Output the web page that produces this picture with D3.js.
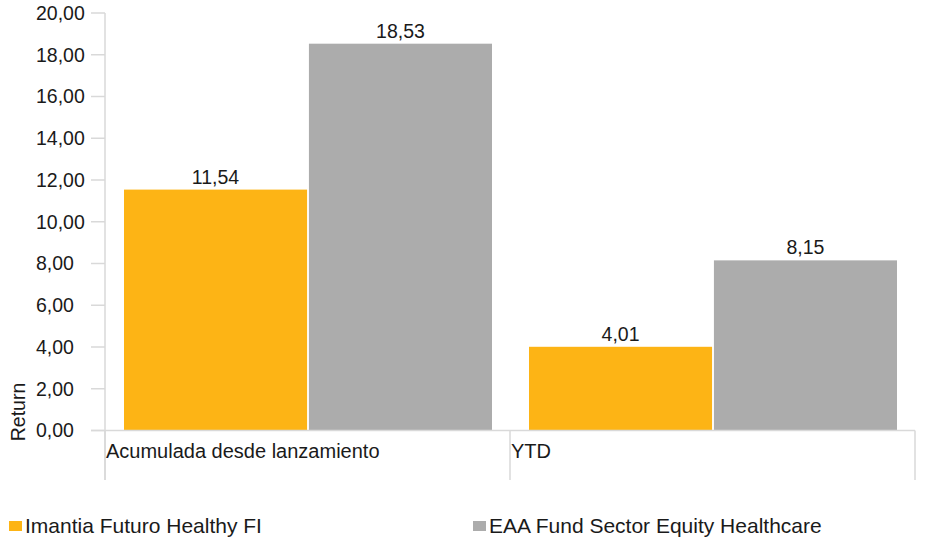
<!DOCTYPE html>
<html>
<head>
<meta charset="utf-8">
<script src="https://cdn.jsdelivr.net/npm/d3@7"></script>
<style>
  body { margin: 0; background: #fff; }
  svg { display: block; font-family: "Liberation Sans", Arial, sans-serif; }
</style>
</head>
<body>
<div id="chart"></div>
<script>
// data
var categories = ["Acumulada desde lanzamiento", "YTD"];
var seriesNames = ["Imantia Futuro Healthy FI", "EAA Fund Sector Equity Healthcare"];
var fundValues = [11.54, 4.01];
var benchValues = [18.53, 8.15];
var yTicks = [0, 2, 4, 6, 8, 10, 12, 14, 16, 18, 20];

var colors = ["#fdb415", "#acacac"];
var axisColor = "#d9d9d9";
var fmt = function(v) { return d3.format(".2f")(v).replace(".", ","); };

var width = 927, height = 537;
var plotLeft = 105, plotRight = 915, plotTop = 13, zero = 430.5;

var svg = d3.select("#chart").append("svg")
    .attr("width", width)
    .attr("height", height);

var x0 = d3.scaleBand().domain(categories).range([plotLeft, plotRight]).paddingInner(0).paddingOuter(0);
var x1 = d3.scaleBand().domain(seriesNames).range([19, x0.bandwidth() - 18]).paddingInner(0.01);
var y = d3.scaleLinear().domain([0, 20]).range([zero, plotTop]);

// y axis
var yAxis = svg.append("g");
yAxis.append("line")
    .attr("x1", plotLeft).attr("x2", plotLeft)
    .attr("y1", plotTop).attr("y2", 480)
    .attr("stroke", axisColor).attr("stroke-width", 1.5);
yAxis.selectAll(".tick").data(yTicks).enter().append("line")
    .attr("x1", 91).attr("x2", plotLeft)
    .attr("y1", function(d) { return y(d); })
    .attr("y2", function(d) { return y(d); })
    .attr("stroke", axisColor).attr("stroke-width", 1.5);
yAxis.selectAll("text").data(yTicks).enter().append("text")
    .attr("x", 36)
    .attr("y", function(d) { return y(d); })
    .attr("dy", "0.35em")
    .attr("font-size", 19.5)
    .attr("fill", "#1a1a1a")
    .text(fmt);

svg.append("text")
    .attr("transform", "translate(25,412) rotate(-90)")
    .attr("text-anchor", "middle")
    .attr("font-size", 19.5)
    .attr("fill", "#1a1a1a")
    .text("Return");

// bars
var groups = svg.selectAll(".cat").data(categories).enter().append("g")
    .attr("transform", function(d) { return "translate(" + x0(d) + ",0)"; });

groups.each(function(c, i) {
    var g = d3.select(this);
    var vals = [fundValues[i], benchValues[i]];
    g.selectAll("rect").data(vals).enter().append("rect")
        .attr("x", function(d, j) { return x1(seriesNames[j]); })
        .attr("width", x1.bandwidth())
        .attr("y", function(d) { return y(d); })
        .attr("height", function(d) { return zero - y(d); })
        .attr("fill", function(d, j) { return colors[j]; });
    g.selectAll(".val").data(vals).enter().append("text")
        .attr("x", function(d, j) { return x1(seriesNames[j]) + x1.bandwidth() / 2; })
        .attr("y", function(d) { return y(d) - 6; })
        .attr("text-anchor", "middle")
        .attr("font-size", 19.5)
        .attr("fill", "#1a1a1a")
        .text(fmt);
});

// x axis
svg.append("line")
    .attr("x1", 91).attr("x2", plotRight)
    .attr("y1", zero).attr("y2", zero)
    .attr("stroke", axisColor).attr("stroke-width", 1.5);
var bounds = categories.map(function(c) { return x0(c); }).concat([plotRight]);
svg.selectAll(".xtick").data(bounds).enter().append("line")
    .attr("x1", function(d) { return d; })
    .attr("x2", function(d) { return d; })
    .attr("y1", zero).attr("y2", 480)
    .attr("stroke", axisColor).attr("stroke-width", 1.5);
svg.selectAll(".xlab").data(categories).enter().append("text")
    .attr("x", function(d) { return x0(d) + 1; })
    .attr("y", 458)
    .attr("font-size", 20)
    .attr("fill", "#1a1a1a")
    .text(function(d) { return d; });

// legend
var legendX = [9, 473];
var legend = svg.selectAll(".leg").data(seriesNames).enter().append("g")
    .attr("transform", function(d, i) { return "translate(" + legendX[i] + ",0)"; });
legend.append("rect")
    .attr("x", 0).attr("y", 521)
    .attr("width", 13).attr("height", 10)
    .attr("fill", function(d, i) { return colors[i]; });
legend.append("text")
    .attr("x", 16).attr("y", 533)
    .attr("font-size", 21)
    .attr("fill", "#1a1a1a")
    .text(function(d) { return d; });
</script>
</body>
</html>
